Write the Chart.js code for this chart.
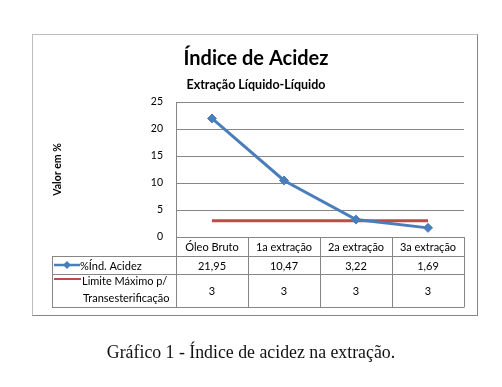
<!DOCTYPE html>
<html>
<head>
<meta charset="utf-8">
<script src="https://cdn.jsdelivr.net/npm/chart.js@4.4.1/dist/chart.umd.min.js"></script>
<style>
  body { margin: 0; background: #fff; }
  #wrap { position: relative; width: 502px; height: 387px; }
  #frame {
    position: absolute; left: 32px; top: 34px; width: 444px; height: 280px;
    border-top: 1px solid #bdbdbd; border-left: 1px solid #bdbdbd;
    border-right: 1px solid #858585; border-bottom: 1px solid #858585;
  }
  #chart { position: absolute; left: 0; top: 0; }
  #caption {
    position: absolute; left: 0; top: 344px; width: 502px; text-align: center;
    font-family: "Liberation Serif", serif; font-size: 17.8px; line-height: 17.8px; color: #111;
  }
</style>
</head>
<body>
<div id="wrap">
  <div id="frame"></div>
  <canvas id="chart" width="502" height="387"></canvas>
  <div id="caption">Gráfico 1 - Índice de acidez na extração.</div>
</div>
<script>
// data
var categories = ["Óleo Bruto", "1a extração", "2a extração", "3a extração"];
var acidez = [21.95, 10.47, 3.22, 1.69];
var limite = [3, 3, 3, 3];
var acidezLabel = "%Índ. Acidez";
var limiteLabel = ["Limite Máximo p/", "Transesterificação"];
var yTicks = [0, 5, 10, 15, 20, 25];

var blue = "#4a7ebb";
var red = "#be4b48";
var gridGray = "#868686";
var fontName = "Lato, 'Open Sans', sans-serif";

function fmt(v) {
  return String(v).replace(".", ",");
}

// draws the data table under the plot, using the x scale for columns
var dataTable = {
  id: "dataTable",
  afterDraw: function(chart) {
    var ctx = chart.ctx;
    var x = chart.scales.x;
    var area = chart.chartArea;
    var half = (x.getPixelForValue(1) - x.getPixelForValue(0)) / 2;
    var tableLeft = 52;
    var top = area.bottom;
    var row0 = top + 19;   // header bottom
    var row1 = row0 + 18;  // first series row bottom
    var row2 = row1 + 33;  // second series row bottom

    ctx.save();
    ctx.strokeStyle = gridGray;
    ctx.lineWidth = 1;
    ctx.beginPath();
    [row0, row1, row2].forEach(function(y) {
      ctx.moveTo(tableLeft, Math.round(y) + 0.5);
      ctx.lineTo(area.right, Math.round(y) + 0.5);
    });
    ctx.moveTo(tableLeft + 0.5, row0);
    ctx.lineTo(tableLeft + 0.5, row2 + 0.5);
    for (var i = 0; i <= categories.length; i++) {
      var bx = Math.round(x.getPixelForValue(i) - half) + 0.5;
      ctx.moveTo(bx, top);
      ctx.lineTo(bx, row2 + 0.5);
    }
    ctx.stroke();

    ctx.fillStyle = "#000";
    ctx.font = "11px " + fontName;
    ctx.textAlign = "center";
    ctx.textBaseline = "middle";
    for (var j = 0; j < categories.length; j++) {
      var cx = x.getPixelForValue(j);
      ctx.fillText(categories[j], cx, (top + row0) / 2 + 1);
      ctx.fillText(fmt(acidez[j]), cx, (row0 + row1) / 2 + 1);
      ctx.fillText(fmt(limite[j]), cx, (row1 + row2) / 2 + 1);
    }

    // legend keys
    ctx.lineWidth = 2.5;
    ctx.strokeStyle = blue;
    var ky = (row0 + row1) / 2;
    ctx.beginPath();
    ctx.moveTo(tableLeft + 2, ky);
    ctx.lineTo(tableLeft + 28, ky);
    ctx.stroke();
    ctx.fillStyle = blue;
    ctx.beginPath();
    ctx.moveTo(tableLeft + 15, ky - 4);
    ctx.lineTo(tableLeft + 19, ky);
    ctx.lineTo(tableLeft + 15, ky + 4);
    ctx.lineTo(tableLeft + 11, ky);
    ctx.closePath();
    ctx.fill();

    ctx.lineWidth = 2;
    ctx.strokeStyle = red;
    ctx.beginPath();
    ctx.moveTo(tableLeft + 2, row1 + 5);
    ctx.lineTo(tableLeft + 29, row1 + 5);
    ctx.stroke();

    ctx.fillStyle = "#000";
    ctx.textAlign = "left";
    ctx.fillText(acidezLabel, tableLeft + 28, ky + 1);
    ctx.fillText(limiteLabel[0], tableLeft + 30, row1 + 7);
    ctx.fillText(limiteLabel[1], tableLeft + 31, row1 + 24);
    ctx.restore();
  }
};

new Chart(document.getElementById("chart"), {
  type: "line",
  data: {
    labels: categories,
    datasets: [
      {
        label: acidezLabel,
        data: acidez,
        borderColor: blue,
        backgroundColor: blue,
        borderWidth: 3,
        pointStyle: "rectRot",
        pointRadius: 4.5,
        pointBorderWidth: 1,
        tension: 0
      },
      {
        label: limiteLabel.join(" "),
        data: limite,
        borderColor: red,
        backgroundColor: red,
        borderWidth: 3,
        pointRadius: 0,
        tension: 0
      }
    ]
  },
  options: {
    responsive: false,
    animation: false,
    devicePixelRatio: 1,
    layout: { padding: { left: 48, right: 38, top: 0, bottom: 150 } },
    plugins: {
      legend: { display: false },
      tooltip: { enabled: false },
      title: {
        display: true,
        text: "Índice de Acidez",
        color: "#000",
        font: { family: fontName, size: 20, weight: "bold" },
        padding: { top: 47, bottom: 0 }
      },
      subtitle: {
        display: true,
        text: "Extração Líquido-Líquido",
        color: "#000",
        font: { family: fontName, size: 12.5, weight: "bold" },
        padding: { top: 6.5, bottom: 9.5 }
      }
    },
    scales: {
      x: {
        type: "category",
        offset: true,
        display: false
      },
      y: {
        min: 0,
        max: 25,
        afterBuildTicks: function(scale) {
          scale.ticks = yTicks.map(function(v) { return { value: v }; });
        },
        afterFit: function(scale) {
          scale.width = 128;
        },
        grid: { color: gridGray, drawTicks: false },
        border: { color: gridGray },
        ticks: {
          padding: 13,
          color: "#000",
          font: { family: fontName, size: 10.5 }
        },
        title: {
          display: true,
          text: "Valor em %",
          color: "#000",
          font: { family: fontName, size: 10.5, weight: "bold" },
          padding: { top: 3, bottom: 4 }
        }
      }
    }
  },
  plugins: [dataTable]
});
</script>
</body>
</html>
